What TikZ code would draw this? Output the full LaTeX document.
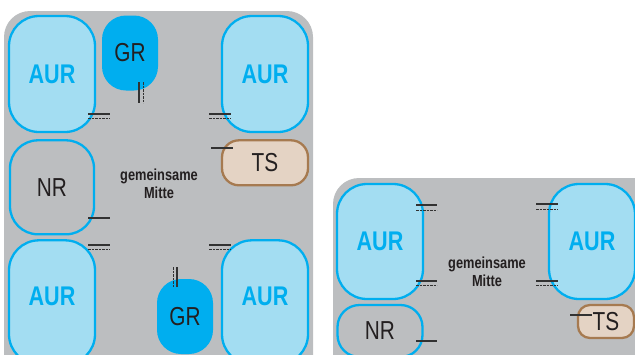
\documentclass[tikz,border=0pt]{standalone}
\usepackage{fontspec}
\setmainfont{Liberation Sans}
\newfontfamily\condfont[FakeStretch=0.8]{Liberation Sans}
\usetikzlibrary{positioning}
\definecolor{panelGray}{RGB}{188,190,192}
\definecolor{aurBlue}{RGB}{0,174,239}
\definecolor{aurFill}{RGB}{163,221,242}
\definecolor{tsFill}{RGB}{228,211,196}
\definecolor{tsBrown}{RGB}{166,122,80}
\definecolor{inkDark}{RGB}{35,31,32}
\definecolor{markGray}{RGB}{50,50,50}

\begin{document}
\begin{tikzpicture}[x=1pt, y=-1pt,
    aur/.style={draw=aurBlue, fill=aurFill, line width=2.3pt, rounded corners=30pt, minimum width=86pt, minimum height=116pt, text=aurBlue, font=\condfont\fontsize{27}{27}\selectfont\bfseries},
    gr/.style={fill=aurBlue, rounded corners=24pt, minimum width=56pt, minimum height=75pt, text=inkDark, font=\condfont\fontsize{26}{26}\selectfont},
    nr/.style={draw=aurBlue, line width=2.3pt, rounded corners=28pt, minimum width=84pt, minimum height=94pt, text=inkDark, font=\condfont\fontsize{26}{26}\selectfont},
    ts/.style={draw=tsBrown, fill=tsFill, line width=2.3pt, rounded corners=17pt, minimum width=86pt, minimum height=45pt, text=inkDark, font=\condfont\fontsize{26}{26}\selectfont},
    mitte/.style={text=inkDark, align=center, font=\condfont\fontsize{16}{18}\selectfont\bfseries},
    solidln/.style={draw=markGray, line width=1.2pt},
    dashln/.style={draw=markGray, line width=1pt, dash pattern=on 2.5pt off 1pt},
]
\useasboundingbox (0,0) rectangle (635,354);
\clip (0,0) rectangle (635,354);

% Panels
\fill[panelGray, rounded corners=26pt] (4,11) rectangle (313,390);
\fill[panelGray, rounded corners=26pt] (333,178) rectangle (660,390);

% Left room
\node[aur] (aur1) at (52,74) {AUR};
\node[aur] (aur2) at (265,74) {AUR};
\node[gr] (gr1) at (130,53) {GR};
\node[nr, below=6pt of aur1] (nr1) {NR};
\node[ts, below=6pt of aur2] (ts1) {TS};
\node[aur, minimum height=124pt, below=106pt of aur1] (aur3) {};
\node[aur, minimum height=124pt, below=106pt of aur2] (aur4) {};
\node[text=aurBlue, font=\condfont\fontsize{27}{27}\selectfont\bfseries] (aur3txt) at (52,296) {AUR};
\node[text=aurBlue, font=\condfont\fontsize{27}{27}\selectfont\bfseries] (aur4txt) at (265,296) {AUR};
\node[gr] (gr2) at (185,316.5) {GR};
\node[mitte] (mitte1) at (159,184) {gemeinsame\\Mitte};

% Right room
\node[aur, minimum height=115pt] (aur5) at (380,241.5) {AUR};
\node[aur, minimum height=115pt] (aur6) at (592,241.5) {AUR};
\node[nr, minimum width=85pt, minimum height=52pt, rounded corners=22pt] (nr2) at (380,331) {NR};
\node[ts, minimum width=56pt, minimum height=33pt, rounded corners=12pt] (ts2) at (606,321.5) {TS};
\node[mitte] (mitte2) at (487,272) {gemeinsame\\Mitte};

% Seat marks, left
\draw[solidln] (88,114) -- (110,114);
\draw[dashln] (88,118) -- (110,118);
\draw[solidln] (209,114) -- (231,114);
\draw[dashln] (209,118) -- (231,118);
\draw[solidln] (139,82) -- (139,103);
\draw[dashln] (143,82) -- (143,103);
\draw[solidln] (211,148) -- (233,148);
\draw[solidln] (88,218) -- (110,218);
\draw[solidln] (88,245) -- (110,245);
\draw[dashln] (88,249) -- (110,249);
\draw[solidln] (209,245) -- (231,245);
\draw[dashln] (209,249) -- (231,249);
\draw[dashln] (173,267) -- (173,287);
\draw[solidln] (177,267) -- (177,287);

% Seat marks, right
\draw[solidln] (416,205) -- (437,205);
\draw[dashln] (416,210) -- (437,210);
\draw[solidln] (416,281) -- (437,281);
\draw[dashln] (416,285) -- (437,285);
\draw[solidln] (536,204) -- (558,204);
\draw[dashln] (536,209) -- (558,209);
\draw[solidln] (536,281) -- (558,281);
\draw[dashln] (536,285) -- (558,285);
\draw[solidln] (416,341) -- (437,341);
\draw[solidln] (570,315) -- (592,315);
\end{tikzpicture}
\end{document}
